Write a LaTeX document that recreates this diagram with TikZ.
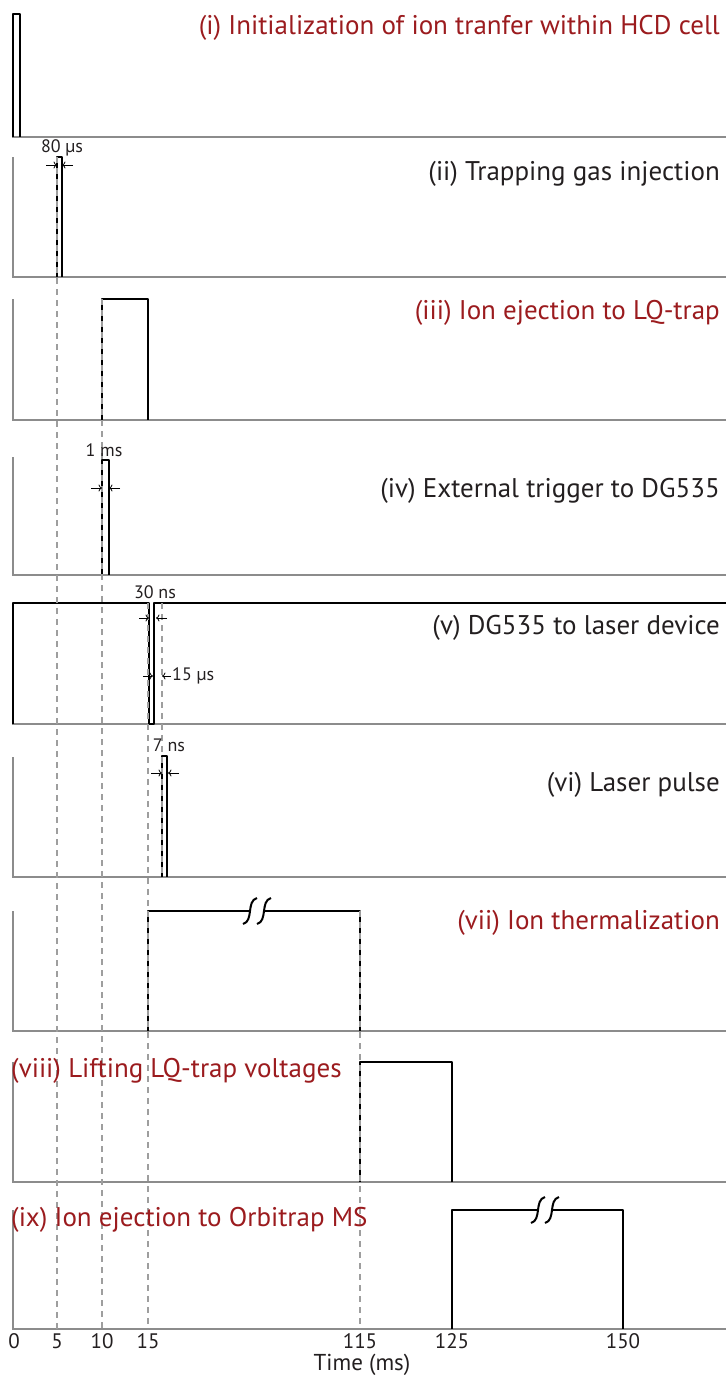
\documentclass[tikz,border=0pt]{standalone}
\usepackage{fontspec}
\setmainfont{PT Sans}
\usetikzlibrary{positioning,arrows.meta}
\definecolor{labred}{RGB}{155,27,30}
\definecolor{labblk}{RGB}{35,31,32}
% break mark on a top line: x, y
\newcommand{\brkmark}[2]{%
\draw[pulse] (#1-7,#2+13) .. controls (#1+4,#2+10) and (#1-4,#2-10) .. (#1+7,#2-13);}

\begin{document}
\begin{tikzpicture}[x=1pt,y=-1pt,
pulse/.style={line width=2pt,black,line join=round},
baseln/.style={line width=1.4pt,black!45},
guide/.style={line width=1.1pt,black!38,dash pattern=on 6pt off 5pt},
title/.style={inner sep=0pt,font=\fontsize{27}{31}\selectfont,text=labblk},
note/.style={inner sep=0pt,font=\fontsize{18}{21}\selectfont,text=labblk},
tick/.style={inner sep=0pt,font=\fontsize{21}{25}\selectfont,text=labblk},
dimarr/.style={-{To[length=3.5pt,width=7pt]},line width=0.8pt,black}]
\useasboundingbox (0,0) rectangle (726,1377);

% axes of the nine panels
\foreach \t/\b in {14/137,157/277,299/420,457/575,603/724,757/877,911/1031,1062/1182,1210/1329}
  \draw[baseln] (13,\t) |- (726,\b);

% pulses
\draw[pulse] (13,137) |- (20,14) -- (20,137);
\draw[pulse] (57,277) |- (62,157) -- (62,277);
\draw[pulse] (102,420) |- (148,299) -- (148,420);
\draw[pulse] (102,575) |- (109,460) -- (109,575);
\draw[pulse] (13,724) |- (149,603) -- (149,724) -- (154,724) -- (154,603) -- (726,603);
\draw[pulse] (162,877) |- (167,756) -- (167,877);
\draw[pulse] (148,1031) |- (250,911);
\draw[pulse] (264,911) -| (360,1031);
\brkmark{250}{911}
\brkmark{264}{911}
\draw[pulse] (360,1182) |- (452,1062) -- (452,1182);
\draw[pulse] (452,1329) |- (538,1210);
\draw[pulse] (552,1210) -| (623,1329);
\brkmark{538}{1210}
\brkmark{552}{1210}

% guide lines
\draw[guide] (57,157) -- (57,1329);
\draw[guide] (102,299) -- (102,1329);
\draw[guide] (148,603) -- (148,1329);
\draw[guide] (162,603) -- (162,877);
\draw[guide] (360,911) -- (360,1329);

% titles
\draw(720,28) node[title,anchor=east,text=labred] (ti) {(i) Initialization of ion tranfer within HCD cell};
\draw(720,174) node[title,anchor=east] (tii) {(ii) Trapping gas injection};
\draw(720,313) node[title,anchor=east,text=labred] (tiii) {(iii) Ion ejection to LQ-trap};
\draw(720,491) node[title,anchor=east] (tiv) {(iv) External trigger to DG535};
\draw(720,628) node[title,anchor=east] (tv) {(v) DG535 to laser device};
\draw(720,785) node[title,anchor=east] (tvi) {(vi) Laser pulse};
\draw(720,923) node[title,anchor=east,text=labred] (tvii) {(vii) Ion thermalization};
\draw(11,1071) node[title,anchor=west,text=labred] (tviii) {(viii) Lifting LQ-trap voltages};
\draw(11,1220) node[title,anchor=west,text=labred] (tix) {(ix) Ion ejection to Orbitrap MS};

% widths
\draw(62,148) node[note] (w80) {80 µs};
\draw[dimarr] (46,165) -- (57,165);
\draw[dimarr] (73,165) -- (62,165);
\draw(104,450) node[note] (w1) {1 ms};
\draw[dimarr] (91,488) -- (102,488);
\draw[dimarr] (120,488) -- (109,488);
\draw(155,592) node[note] (w30) {30 ns};
\draw[dimarr] (139,618) -- (149,618);
\draw[dimarr] (167,618) -- (156,618);
\draw[dimarr] (143,676) -- (153,676);
\draw[dimarr] (171,676) -- (162,676);
\draw(172,676) node[note,anchor=west] (w15) {15 µs};
\draw(169,745) node[note] (w7) {7 ns};
\draw[dimarr] (151,773) -- (162,773);
\draw[dimarr] (179,773) -- (168,773);

% time axis
\foreach \x/\v in {14/0,57/5,102/10,148/15,360/115,452/125,623/150}
  \draw(\x,1341) node[tick] {\v};
\draw(362,1365) node[tick,font=\fontsize{23}{27}\selectfont] (tm) {Time (ms)};
\end{tikzpicture}
\end{document}
